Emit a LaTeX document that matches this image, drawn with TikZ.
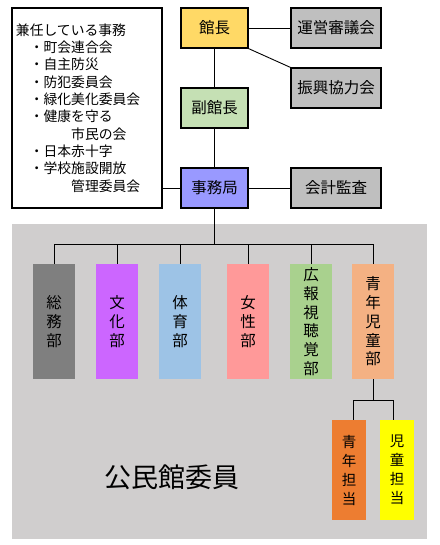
\documentclass[tikz,border=0pt]{standalone}
\usepackage{fontspec}
\usepackage{xcolor}
\usetikzlibrary{positioning}
\newfontfamily\jp{Noto Sans CJK JP}
\definecolor{Chief}{HTML}{FFD966}
\definecolor{Deputy}{HTML}{C5E0B4}
\definecolor{Office}{HTML}{9999FF}
\definecolor{Council}{HTML}{BFBFBF}
\definecolor{Members}{HTML}{D0CECE}
\definecolor{General}{HTML}{7F7F7F}
\definecolor{Culture}{HTML}{CC66FF}
\definecolor{Sports}{HTML}{9DC3E6}
\definecolor{Women}{HTML}{FF9999}
\definecolor{Media}{HTML}{A9D18E}
\definecolor{Youth}{HTML}{F4B183}
\definecolor{YouthLead}{HTML}{ED7D31}
\definecolor{ChildLead}{HTML}{FFFF00}

\begin{document}
\begin{tikzpicture}[x=1pt,y=-1pt,every node/.style={font=\jp\fontsize{15.5}{18}\selectfont,text=black},post/.style={draw=black,line width=1.2pt,minimum width=67pt,minimum height=40pt,inner sep=0pt},side/.style={post,minimum width=90pt,fill=Council},dept/.style={minimum width=42pt,minimum height=115pt,inner sep=0pt,align=center,font=\jp\fontsize{15.5}{18.7}\selectfont},lead/.style={minimum width=34pt,minimum height=100pt,inner sep=0pt,align=center,font=\jp\fontsize{14.5}{19}\selectfont},link/.style={draw=black,line width=.9pt}]
\useasboundingbox[fill=white] (0,0) rectangle (439,545);
\fill[Members] (12,224) rectangle (427,539);
\node[draw=black,line width=2pt,minimum width=150pt,minimum height=200pt,text width=142pt,inner xsep=4pt,align=left,font=\jp\fontsize{13.8}{17.3}\selectfont] (duties) at (87,108) {兼任している事務\\　・町会連合会\\　・自主防災\\　・防犯委員会\\　・緑化美化委員会\\　・健康を守る\\　　　　市民の会\\　・日本赤十字\\　・学校施設開放\\　　　　管理委員会};
\node[post,fill=Chief] (chief) at (214.5,28) {館長};
\node[post,fill=Deputy] (deputy) at (214.5,108) {副館長};
\node[post,fill=Office] (office) at (214.5,188) {事務局};
\node[side] (board) at (336,28) {運営審議会};
\node[side] (promo) at (336,88) {振興協力会};
\node[side] (audit) at (336,188) {会計監査};
\draw[link] (chief)--(board); \draw[link] (chief.south east)--(promo.north west);
\draw[link] (chief)--(deputy)--(office); \draw[link] (office)--(audit);
\draw[link] (office.west -| duties.east)--(office.west);
\node[dept,fill=General] (general) at (54,321.5) {総\\務\\部};
\node[dept,fill=Culture] (culture) at (117,321.5) {文\\化\\部};
\node[dept,fill=Sports] (sports) at (180,321.5) {体\\育\\部};
\node[dept,fill=Women] (women) at (248,321.5) {女\\性\\部};
\node[dept,fill=Media] (media) at (311,321.5) {広\\報\\視\\聴\\覚\\部};
\node[dept,fill=Youth] (youth) at (373,321.5) {青\\年\\児\\童\\部};
\coordinate (bus) at (214.5,244);
\draw[link] (office)--(bus); \draw[link] (general.north |- bus)--(youth.north |- bus);
\foreach \d in {general,culture,sports,women,media,youth} \draw[link] (\d.north)--(\d.north |- bus);
\node[lead,fill=YouthLead] (youthlead) at (349,470) {青\\年\\担\\当};
\node[lead,fill=ChildLead] (childlead) at (397,470) {児\\童\\担\\当};
\coordinate (split) at (373,400.5);
\draw[link] (youth)--(split); \draw[link] ([xshift=4pt]youthlead.north) |- (split) -| ([xshift=-4pt]childlead.north);
\node[font=\jp\fontsize{27}{30}\selectfont] (members) at (172,477) {公民館委員};
\end{tikzpicture}
\end{document}
